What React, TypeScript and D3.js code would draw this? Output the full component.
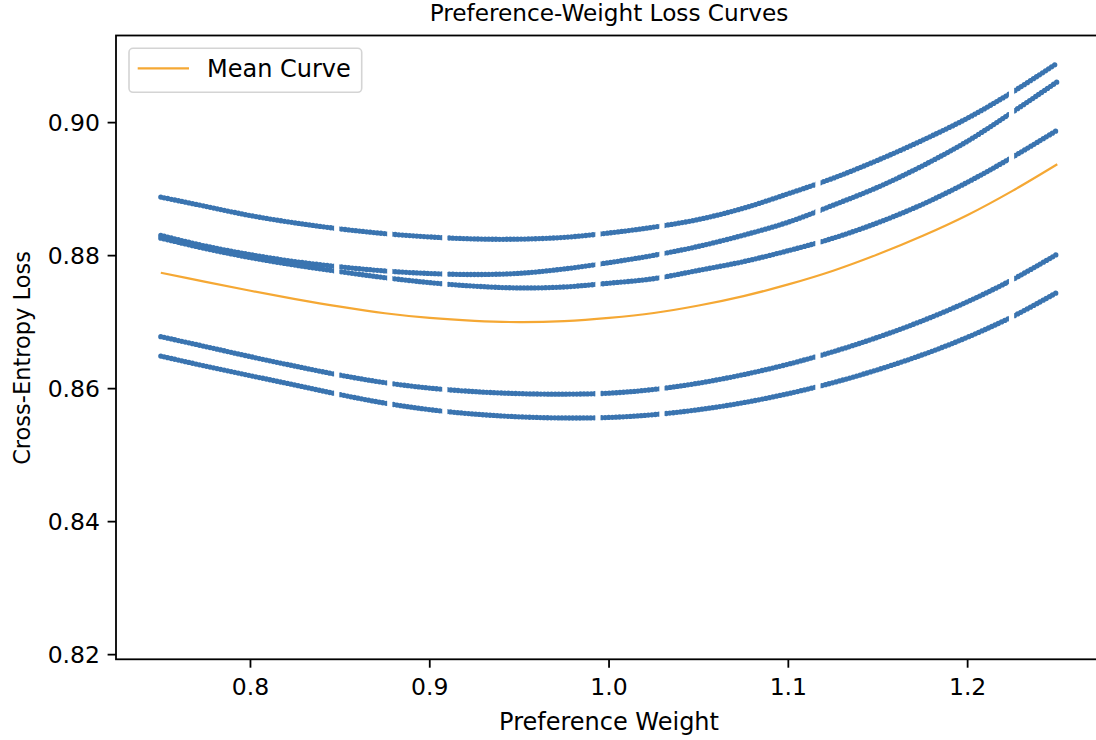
import React from 'react';
import * as d3 from 'd3';

// ---- data ----
const WEIGHTS = [0.75, 0.775, 0.8, 0.825, 0.85, 0.875, 0.9, 0.925, 0.95, 0.975, 1.0, 1.025, 1.05, 1.075, 1.1, 1.125, 1.15, 1.175, 1.2, 1.225, 1.25];

const LOSS_RUN_1 = [0.88880, 0.88741, 0.88602, 0.88492, 0.88402, 0.88331, 0.88281, 0.88251, 0.88248, 0.88275, 0.88341, 0.88429, 0.88544, 0.88714, 0.88932, 0.89165, 0.89436, 0.89737, 0.90068, 0.90459, 0.90895];
const LOSS_RUN_2 = [0.88304, 0.88143, 0.88015, 0.87910, 0.87832, 0.87770, 0.87731, 0.87716, 0.87734, 0.87800, 0.87895, 0.88005, 0.88140, 0.88308, 0.88504, 0.88759, 0.89030, 0.89353, 0.89722, 0.90158, 0.90614];
const LOSS_RUN_3 = [0.88263, 0.88105, 0.87970, 0.87857, 0.87759, 0.87669, 0.87594, 0.87541, 0.87514, 0.87529, 0.87586, 0.87654, 0.87779, 0.87910, 0.88075, 0.88263, 0.88496, 0.88774, 0.89105, 0.89481, 0.89887];
const LOSS_RUN_4 = [0.86782, 0.86632, 0.86481, 0.86338, 0.86203, 0.86090, 0.86008, 0.85955, 0.85925, 0.85917, 0.85932, 0.85988, 0.86083, 0.86211, 0.86368, 0.86556, 0.86774, 0.87023, 0.87308, 0.87639, 0.88023];
const LOSS_RUN_5 = [0.86489, 0.86338, 0.86195, 0.86053, 0.85910, 0.85782, 0.85684, 0.85617, 0.85576, 0.85559, 0.85567, 0.85609, 0.85684, 0.85789, 0.85925, 0.86090, 0.86286, 0.86511, 0.86774, 0.87083, 0.87448];
const MEAN_CURVE = [0.87743, 0.87605, 0.87472, 0.87347, 0.87233, 0.87134, 0.87063, 0.87020, 0.87000, 0.87015, 0.87063, 0.87137, 0.87250, 0.87392, 0.87567, 0.87773, 0.88020, 0.88298, 0.88611, 0.88974, 0.89374];

// weights where samples are missing in every run
const GAP_WEIGHTS = [0.8481, 0.8777, 0.9084, 0.9938, 1.0295, 1.1165, 1.2245];

const X_TICKS = [0.8, 0.9, 1.0, 1.1, 1.2];
const Y_TICKS = [0.82, 0.84, 0.86, 0.88, 0.9];

const RUNS = [LOSS_RUN_1, LOSS_RUN_2, LOSS_RUN_3, LOSS_RUN_4, LOSS_RUN_5];

// ---- layout ----
const W = 1096;
const H = 740;
const LEFT = 116;
const RIGHT = 1102.1;
const TOP = 35.5;
const BOTTOM = 659.3;
const FONT = '"DejaVu Sans", sans-serif';
const BLUE = '#3a74b0';
const ORANGE = '#f5a834';

export default function App() {
  const x = d3.scaleLinear().domain([0.725, 1.275]).range([LEFT, RIGHT]);
  const y = d3.scaleLinear().domain([0.8193, 0.9131]).range([BOTTOM, TOP]);
  const line = d3
    .line<number>()
    .x((_, i) => x(WEIGHTS[i]))
    .y((d) => y(d))
    .curve(d3.curveCatmullRom);

  const tickFs = 23.5;
  const midX = (LEFT + RIGHT) / 2;

  return (
    <svg
      width={W}
      height={H}
      style={{ position: 'absolute', left: 0, top: 0, background: '#fff' }}
      fontFamily={FONT}
    >
      <defs>
        <mask id="gapMask" maskUnits="userSpaceOnUse" x={0} y={0} width={W} height={H}>
          <rect x={0} y={0} width={W} height={H} fill="#fff" />
          {GAP_WEIGHTS.map((g, i) => (
            <rect key={i} x={x(g) - 2.6} y={0} width={5.2} height={H} fill="#000" />
          ))}
        </mask>
      </defs>
      <rect x={0} y={0} width={W} height={H} fill="#fff" />

      {/* sample points of each run */}
      <g mask="url(#gapMask)">
        {RUNS.map((run, i) => (
          <path
            key={i}
            d={line(run) || ''}
            fill="none"
            stroke={BLUE}
            strokeWidth={5.3}
            strokeLinecap="round"
            strokeDasharray="0 3.6"
          />
        ))}
      </g>

      {/* mean curve */}
      <path d={line(MEAN_CURVE) || ''} fill="none" stroke={ORANGE} strokeWidth={2.2} />

      {/* frame */}
      <rect x={LEFT} y={TOP} width={RIGHT - LEFT} height={BOTTOM - TOP} fill="none" stroke="#000" strokeWidth={1.8} />

      {/* x ticks */}
      {X_TICKS.map((t) => (
        <g key={t}>
          <line x1={x(t)} x2={x(t)} y1={BOTTOM} y2={BOTTOM + 8.4} stroke="#000" strokeWidth={1.8} />
          <text x={x(t)} y={695} textAnchor="middle" fontSize={tickFs} fill="#000">
            {t.toFixed(1)}
          </text>
        </g>
      ))}

      {/* y ticks */}
      {Y_TICKS.map((t) => (
        <g key={t}>
          <line x1={LEFT - 8.4} x2={LEFT} y1={y(t)} y2={y(t)} stroke="#000" strokeWidth={1.8} />
          <text x={100} y={y(t) + 0.365 * tickFs} textAnchor="end" fontSize={tickFs} fill="#000">
            {t.toFixed(2)}
          </text>
        </g>
      ))}

      {/* labels */}
      <text x={midX} y={21} textAnchor="middle" fontSize={23.2} fill="#000">
        Preference-Weight Loss Curves
      </text>
      <text x={midX} y={730} textAnchor="middle" fontSize={24} fill="#000">
        Preference Weight
      </text>
      <text
        transform={`translate(30,358) rotate(-90)`}
        textAnchor="middle"
        fontSize={22.5}
        fill="#000"
      >
        Cross-Entropy Loss
      </text>

      {/* legend */}
      <rect x={129} y={48.3} width={232.7} height={44} rx={4} fill="#fff" fillOpacity={0.8} stroke="#d4d4d4" strokeWidth={1.6} />
      <line x1={137.7} x2={189} y1={68.3} y2={68.3} stroke={ORANGE} strokeWidth={2.2} />
      <text x={207} y={77} fontSize={24} fill="#000">
        Mean Curve
      </text>
    </svg>
  );
}
